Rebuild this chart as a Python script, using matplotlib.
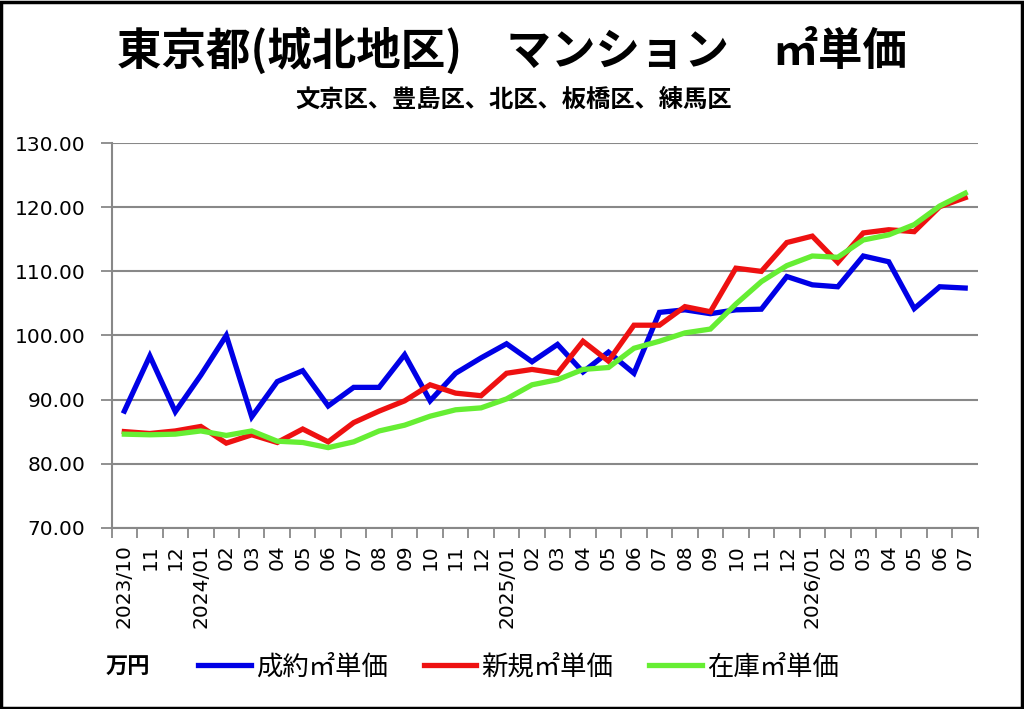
import matplotlib
matplotlib.use("Agg")
import matplotlib.pyplot as plt
from matplotlib.patches import Rectangle
from matplotlib.ticker import FormatStrFormatter

plt.rcParams['font.family'] = ['DejaVu Sans']
cjk = ['Noto Sans CJK JP', 'DejaVu Sans']

# months 2023/10 .. 2026/07
labels = ['2023/10', '11', '12',
          '2024/01', '02', '03', '04', '05', '06', '07', '08', '09', '10', '11', '12',
          '2025/01', '02', '03', '04', '05', '06', '07', '08', '09', '10', '11', '12',
          '2026/01', '02', '03', '04', '05', '06', '07']

seiyaku = [88.2, 96.8, 88.1, 93.8, 100.0, 87.3, 92.8, 94.5, 89.0, 91.9, 91.9, 97.0,
           89.8, 94.1, 96.5, 98.7, 95.9, 98.6, 94.3, 97.4, 94.1, 103.6, 104.0, 103.4,
           104.0, 104.1, 109.2, 107.9, 107.6, 112.4, 111.5, 104.2, 107.6, 107.4]
shinki = [85.0, 84.7, 85.1, 85.8, 83.2, 84.5, 83.3, 85.4, 83.4, 86.4, 88.2, 89.8,
          92.3, 91.0, 90.6, 94.1, 94.7, 94.1, 99.1, 96.0, 101.6, 101.6, 104.5, 103.7,
          110.5, 110.0, 114.5, 115.5, 111.4, 116.0, 116.5, 116.2, 120.1, 121.5]
zaiko = [84.6, 84.5, 84.6, 85.1, 84.4, 85.1, 83.5, 83.3, 82.5, 83.4, 85.1, 86.0,
         87.4, 88.4, 88.7, 90.1, 92.3, 93.1, 94.7, 95.0, 98.0, 99.1, 100.4, 101.0,
         104.9, 108.4, 110.9, 112.4, 112.2, 114.9, 115.7, 117.3, 120.2, 122.2]

x = list(range(len(labels)))

fig = plt.figure(figsize=(10.24, 7.09), dpi=100)
ax = fig.add_axes([0.109, 0.2557, 0.846, 0.5423])

ax.plot(x, seiyaku, color='#0000e6', lw=3.8, label='成約㎡単価', solid_joinstyle='miter')
ax.plot(x, shinki, color='#ee1111', lw=3.8, label='新規㎡単価', solid_joinstyle='miter')
ax.plot(x, zaiko, color='#66ee33', lw=3.8, label='在庫㎡単価', solid_joinstyle='miter')

ax.set_ylim(70, 130)
ax.set_yticks(range(70, 131, 10))
ax.yaxis.set_major_formatter(FormatStrFormatter('%.2f'))
ax.set_xlim(-0.5, len(labels) - 0.5)
ax.set_xticks(x)
ax.set_xticklabels(labels, rotation=90, fontsize=14.5, va='top')
ax.set_xticks([i - 0.5 for i in range(len(labels) + 1)], minor=True)
ax.tick_params(axis='x', which='major', length=0, pad=12)
ax.tick_params(axis='x', which='minor', length=7, width=1.3, color='#888888', direction='out')
ax.tick_params(axis='y', length=8, width=1.3, color='#888888', labelsize=14.5, pad=11)

ax.grid(axis='y', color='#888888', lw=1.5)
ax.set_axisbelow(True)
for s in ['top', 'right']:
    ax.spines[s].set_visible(False)
for s in ['left', 'bottom']:
    ax.spines[s].set_color('#888888')
    ax.spines[s].set_linewidth(1.5)

fig.text(0.5, 0.928, '東京都(城北地区)　マンション　㎡単価', ha='center', va='center',
         fontsize=32, fontweight='bold', family=cjk)
fig.text(0.502, 0.859, '文京区、豊島区、北区、板橋区、練馬区', ha='center', va='center',
         fontsize=17.5, fontweight='bold', family=cjk)

fig.text(0.103, 0.059, '万円', ha='left', va='center', fontsize=16, fontweight='bold', family=cjk)
leg = fig.legend(loc='center left', bbox_to_anchor=(0.1934, 0.059), ncol=3, frameon=False,
                 borderpad=0, borderaxespad=0,
                 handlelength=2.0, handletextpad=0.2, columnspacing=1.35,
                 prop={'family': cjk, 'size': 19})

fig.add_artist(Rectangle((0.001, 0.001), 0.997, 0.996, transform=fig.transFigure,
                         fill=False, edgecolor='black', lw=2.5))

fig.savefig('out.png', dpi=100)
